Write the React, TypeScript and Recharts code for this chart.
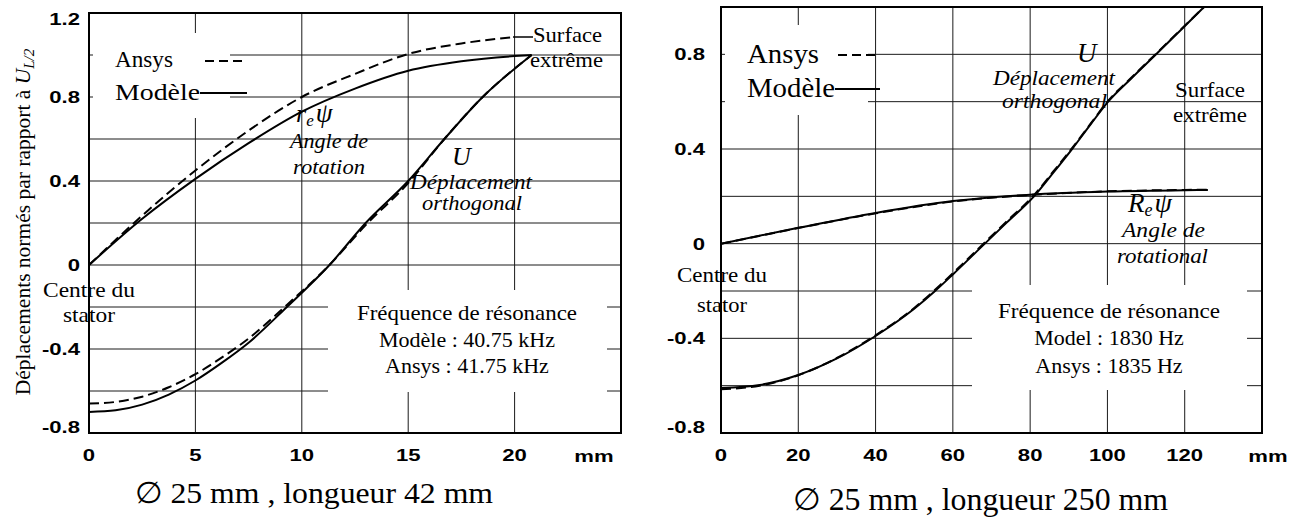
import React from "react";
import { LineChart, Line, XAxis, YAxis, CartesianGrid } from "recharts";

// ---------- chart 1 : Ø 25 mm, longueur 42 mm ----------
const shortXTicks = [0, 5, 10, 15, 20];
const shortYTicks = [-0.8, -0.6, -0.4, -0.2, 0, 0.2, 0.4, 0.6, 0.8, 1.0, 1.2];
const shortYLabels = ["-0.8", "", "-0.4", "", "0", "", "0.4", "", "0.8", "", "1.2"];

const shortPsiModeleX = [0, 2.5, 5, 7.5, 10, 12.5, 15, 17.5, 20, 20.8];
const shortPsiModeleY = [0, 0.22, 0.41, 0.58, 0.73, 0.84, 0.925, 0.97, 0.995, 1.0];
const shortPsiAnsysX = [0, 2.5, 5, 7.5, 10, 12.5, 15, 17.5, 20];
const shortPsiAnsysY = [0, 0.235, 0.45, 0.64, 0.8, 0.91, 1.005, 1.055, 1.085];

const shortUModeleX = [0, 1.25, 2.5, 3.75, 5, 6.25, 7.5, 9.3, 11.3, 13, 15, 16.7, 18.5, 20.8];
const shortUModeleY = [-0.7, -0.692, -0.665, -0.617, -0.55, -0.465, -0.37, -0.2, 0, 0.2, 0.4, 0.6, 0.8, 1.0];
const shortUAnsysX = [0, 1.25, 2.5, 3.75, 5, 6.25, 7.5, 9.3, 11.3, 13, 15, 16.7, 18.5, 20.8];
const shortUAnsysY = [-0.66, -0.652, -0.627, -0.582, -0.52, -0.44, -0.35, -0.19, 0, 0.19, 0.39, 0.6, 0.8, 1.0];

// ---------- chart 2 : Ø 25 mm, longueur 250 mm ----------
const longXTicks = [0, 20, 40, 60, 80, 100, 120];
const longYTicks = [-0.8, -0.6, -0.4, -0.2, 0, 0.2, 0.4, 0.6, 0.8, 1.0];
const longYLabels = ["-0.8", "", "-0.4", "", "0", "", "0.4", "", "0.8", ""];

const longPsiModeleX = [0, 20, 40, 60, 80, 100, 120, 126];
const longPsiModeleY = [0, 0.067, 0.13, 0.18, 0.207, 0.22, 0.226, 0.227];
const longPsiAnsysX = [0, 20, 40, 60, 80, 100, 120, 126];
const longPsiAnsysY = [0, 0.066, 0.128, 0.178, 0.206, 0.221, 0.227, 0.228];

const longUModeleX = [0, 10, 20, 30, 40, 50, 55.4, 60, 67, 74, 81, 86, 91, 95.6, 100.2, 106.3, 112.6, 118.8, 125];
const longUModeleY = [-0.61, -0.597, -0.555, -0.485, -0.39, -0.275, -0.2, -0.13, -0.02, 0.09, 0.2, 0.3, 0.403, 0.503, 0.6, 0.7, 0.8, 0.9, 1.0];
const longUAnsysX = [0, 10, 20, 30, 40, 50, 55.4, 60, 67, 74, 81, 86, 91, 95.6, 100.2, 106.3, 112.6, 118.8, 125];
const longUAnsysY = [-0.615, -0.6, -0.556, -0.483, -0.387, -0.272, -0.195, -0.125, -0.015, 0.095, 0.205, 0.305, 0.407, 0.506, 0.604, 0.703, 0.803, 0.902, 1.0];

const zip = (xs: number[], ys: number[]) => xs.map((x, i) => ({ x, y: ys[i] }));

const SERIF = "'Liberation Serif', 'Times New Roman', serif";
const SANS = "'Liberation Sans', Arial, sans-serif";

// bold axis numbers, stretched horizontally like the original figure
const AxisTick = (props: any) => {
  const { x, y, payload, axis, ticks, labels, top, bottom } = props;
  let label = String(payload.value);
  if (labels) {
    const idx = ticks.findIndex((t: number) => Math.abs(t - payload.value) < 1e-9);
    label = idx >= 0 ? labels[idx] : "";
  }
  if (!label) return null;
  const ty = axis === "x" ? y + 12 : Math.min(Math.max(y, top + 6), bottom - 6) + 6;
  return (
    <text
      transform={`translate(${x},${ty}) scale(1.3,1)`}
      textAnchor={axis === "x" ? "middle" : "end"}
      fontFamily={SANS}
      fontWeight="bold"
      fontSize={17}
      fill="#000"
    >
      {label}
    </text>
  );
};

interface PanelProps {
  width: number;
  margin: { top: number; right: number; bottom: number; left: number };
  xDomain: [number, number];
  xTicks: number[];
  yDomain: [number, number];
  yTicks: number[];
  yLabels: string[];
  yTickMargin: number;
  series: { data: { x: number; y: number }[]; dashed: boolean }[];
}

function Panel({ width, margin, xDomain, xTicks, yDomain, yTicks, yLabels, yTickMargin, series }: PanelProps) {
  const plotBottom = 522 - margin.bottom - 40;
  return (
    <LineChart width={width} height={522} margin={margin}>
      <CartesianGrid stroke="#1a1a1a" strokeWidth={1} />
      <XAxis
        type="number"
        dataKey="x"
        domain={xDomain}
        ticks={xTicks}
        allowDataOverflow
        height={40}
        tickLine={false}
        axisLine={false}
        tickMargin={10}
        tick={(p: any) => <AxisTick {...p} axis="x" />}
      />
      <YAxis
        type="number"
        dataKey="y"
        domain={yDomain}
        ticks={yTicks}
        allowDataOverflow
        width={60}
        tickLine={false}
        axisLine={false}
        tickMargin={yTickMargin}
        interval={0}
        tick={(p: any) => (
          <AxisTick {...p} axis="y" ticks={yTicks} labels={yLabels} top={margin.top} bottom={plotBottom} />
        )}
      />
      {series.map((s, i) => (
        <Line
          key={i}
          data={s.data}
          dataKey="y"
          type="monotone"
          stroke="#000"
          strokeWidth={2}
          strokeDasharray={s.dashed ? "10 5" : undefined}
          dot={false}
          activeDot={false}
          isAnimationActive={false}
        />
      ))}
    </LineChart>
  );
}

const T = ({ x, y, size = 22, italic = false, anchor = "start", len, children }: any) => (
  <text
    x={x}
    y={y}
    fontFamily={SERIF}
    fontSize={size}
    fontStyle={italic ? "italic" : "normal"}
    textAnchor={anchor}
    textLength={len}
    lengthAdjust={len ? "spacingAndGlyphs" : undefined}
    fill="#000"
  >
    {children}
  </text>
);

function Annotations() {
  return (
    <svg width={1307} height={522} style={{ position: "absolute", left: 0, top: 0, pointerEvents: "none" }}>
      {/* frames */}
      <rect x={89} y={13} width={532} height={420} fill="none" stroke="#000" strokeWidth={2} />
      <rect x={721} y={7} width={541} height={426} fill="none" stroke="#000" strokeWidth={2} />

      {/* ---- left panel ---- */}
      <rect x={93} y={33} width={137} height={85} fill="#fff" />
      <T x={115} y={67} size={23} len={58}>Ansys</T>
      <line x1={205} y1={61} x2={245} y2={61} stroke="#000" strokeWidth={2} strokeDasharray="9 5" />
      <T x={115} y={100} size={23} len={85}>Modèle</T>
      <line x1={200} y1={93} x2={247} y2={93} stroke="#000" strokeWidth={2} />

      <text x={296} y={122} fontFamily={SERIF} fontSize={26} fontStyle="italic">
        r<tspan fontSize={17} dy={4}>e</tspan>
        <tspan fontSize={27} dy={-4} dx={2}>ψ</tspan>
      </text>
      <T x={290} y={148} italic len={78}>Angle de</T>
      <T x={293} y={174} italic len={72}>rotation</T>

      <T x={452} y={165} size={26} italic>U</T>
      <T x={410} y={189} italic len={122}>Déplacement</T>
      <T x={422} y={210} italic len={100}>orthogonal</T>

      <line x1={513} y1={37} x2={533} y2={37} stroke="#000" strokeWidth={1.5} />
      <T x={533} y={42} len={69}>Surface</T>
      <T x={530} y={67} len={73}>extrême</T>

      <T x={43} y={297} len={92}>Centre du</T>
      <T x={63} y={322} len={52}>stator</T>

      <rect x={328} y={290} width={279} height={102} fill="#fff" />
      <T x={467} y={320} anchor="middle" len={220}>Fréquence de résonance</T>
      <T x={467} y={347} anchor="middle">Modèle : 40.75 kHz</T>
      <T x={467} y={373} anchor="middle">Ansys : 41.75 kHz</T>

      <text x={0} y={0} transform="translate(30,222) rotate(-90)" textAnchor="middle" fontFamily={SERIF} fontSize={21.5}>
        Déplacements normés par rapport à <tspan fontStyle="italic">U</tspan>
        <tspan fontStyle="italic" fontSize={15} dy={4}>L/2</tspan>
      </text>

      <text transform="translate(594,462) scale(1.3,1)" textAnchor="middle" fontFamily={SANS} fontWeight="bold" fontSize={17}>mm</text>
      <T x={135} y={503} size={30} len={358}>∅ 25 mm , longueur 42 mm</T>

      {/* ---- right panel ---- */}
      <rect x={725} y={25} width={143} height={90} fill="#fff" />
      <T x={747} y={63} size={28} len={72}>Ansys</T>
      <line x1={838} y1={55} x2={880} y2={55} stroke="#000" strokeWidth={2} strokeDasharray="9 5" />
      <T x={747} y={97} size={28} len={88}>Modèle</T>
      <line x1={835} y1={89} x2={880} y2={89} stroke="#000" strokeWidth={2} />

      <T x={1077} y={62} size={27} italic>U</T>
      <T x={993} y={85} italic len={122}>Déplacement</T>
      <T x={1002} y={108} italic len={105}>orthogonal</T>

      <T x={1175} y={97} len={70}>Surface</T>
      <T x={1173} y={122} len={74}>extrême</T>

      <text x={1128} y={212} fontFamily={SERIF} fontSize={27} fontStyle="italic">
        R<tspan fontSize={18} dy={4}>e</tspan>
        <tspan fontSize={28} dy={-4} dx={2}>ψ</tspan>
      </text>
      <T x={1122} y={237} italic len={83}>Angle de</T>

      <rect x={972} y={285} width={275} height={105} fill="#fff" />
      <T x={1117} y={263} italic len={91}>rotational</T>
      <T x={1109} y={318} anchor="middle" len={222}>Fréquence de résonance</T>
      <T x={1109} y={345} anchor="middle">Model : 1830 Hz</T>
      <T x={1109} y={373} anchor="middle">Ansys : 1835 Hz</T>

      <T x={677} y={282} len={90}>Centre du</T>
      <T x={697} y={312} len={50}>stator</T>

      <text transform="translate(1268,462) scale(1.3,1)" textAnchor="middle" fontFamily={SANS} fontWeight="bold" fontSize={17}>mm</text>
      <T x={793} y={510} size={31} len={375}>∅ 25 mm , longueur 250 mm</T>
    </svg>
  );
}

export default function App() {
  return (
    <div style={{ position: "absolute", left: 0, top: 0, width: 1307, height: 522, background: "#fff" }}>
      <div style={{ position: "absolute", left: 0, top: 0 }}>
        <Panel
          width={640}
          margin={{ top: 13, right: 19, bottom: 49, left: 29 }}
          xDomain={[0, 25]}
          xTicks={shortXTicks}
          yDomain={[-0.8, 1.2]}
          yTicks={shortYTicks}
          yLabels={shortYLabels}
          yTickMargin={3}
          series={[
            { data: zip(shortPsiAnsysX, shortPsiAnsysY), dashed: true },
            { data: zip(shortPsiModeleX, shortPsiModeleY), dashed: false },
            { data: zip(shortUAnsysX, shortUAnsysY), dashed: true },
            { data: zip(shortUModeleX, shortUModeleY), dashed: false },
          ]}
        />
      </div>
      <div style={{ position: "absolute", left: 650, top: 0 }}>
        <Panel
          width={657}
          margin={{ top: 7, right: 45, bottom: 49, left: 11 }}
          xDomain={[0, 140]}
          xTicks={longXTicks}
          yDomain={[-0.8, 1.0]}
          yTicks={longYTicks}
          yLabels={longYLabels}
          yTickMargin={10}
          series={[
            { data: zip(longPsiAnsysX, longPsiAnsysY), dashed: true },
            { data: zip(longPsiModeleX, longPsiModeleY), dashed: false },
            { data: zip(longUAnsysX, longUAnsysY), dashed: true },
            { data: zip(longUModeleX, longUModeleY), dashed: false },
          ]}
        />
      </div>
      <Annotations />
    </div>
  );
}
